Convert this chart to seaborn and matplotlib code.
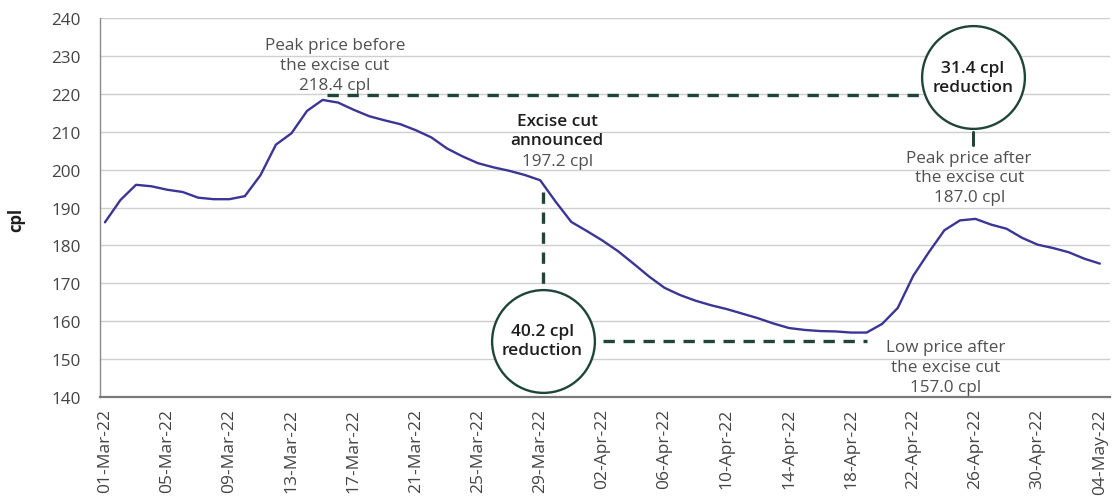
import matplotlib
matplotlib.use("Agg")
import matplotlib.pyplot as plt
import matplotlib.dates as mdates
import numpy as np
import pandas as pd
import seaborn as sns

# Daily retail petrol price, 1 March - 4 May 2022 (cents per litre)
dates = pd.date_range("2022-03-01", "2022-05-04", freq="D")
prices = [
    186.1, 192.0, 196.0, 195.6, 194.7, 194.1, 192.6, 192.2, 192.2, 193.0,
    198.5, 206.6, 209.6, 215.5, 218.4, 217.7, 215.8, 214.1, 213.0, 212.0,
    210.4, 208.5, 205.6, 203.5, 201.7, 200.6, 199.7, 198.6, 197.2, 191.5,
    186.2, 183.8, 181.3, 178.5, 175.2, 171.8, 168.8, 166.9, 165.4, 164.2,
    163.2, 162.0, 160.8, 159.4, 158.2, 157.7, 157.4, 157.3, 157.0, 157.0,
    159.3, 163.5, 172.0, 178.2, 184.0, 186.6, 187.0, 185.5, 184.4, 182.0,
    180.2, 179.3, 178.2, 176.5, 175.2,
]

peak_before = 218.4
announced = 197.2
low_after = 157.0
peak_after = 187.0
announce_date = pd.Timestamp("2022-03-29")

df = pd.DataFrame({"date": dates, "price": prices})

sns.set_theme(style="white")
plt.rcParams["font.family"] = ["Open Sans", "DejaVu Sans"]

LINE = "#3b3596"
DASH = "#1f4536"
GREY_TXT = "#505050"
DARK_TXT = "#1e1e1e"

fig = plt.figure(figsize=(11.12, 5.02), dpi=100)
ax = fig.add_axes([0.0899, 0.2072, 0.9081, 0.7548])

sns.lineplot(data=df, x="date", y="price", ax=ax, color=LINE, lw=1.7, zorder=3)

day = pd.Timedelta(days=1)
x0 = dates[0]
ax.set_xlim(x0 - 0.32 * day, dates[-1] + 0.64 * day)
ax.set_ylim(140, 240)
ax.set_yticks(np.arange(140, 241, 10))
ax.set_xticks(dates[::4])
ax.xaxis.set_major_formatter(mdates.DateFormatter("%d-%b-%y"))

ax.grid(axis="y", color="#cfcfcf", lw=1.0)
ax.grid(axis="x", visible=False)
for s in ("top", "right"):
    ax.spines[s].set_visible(False)
ax.spines["left"].set_color("#8a8a8a")
ax.spines["left"].set_linewidth(1.0)
ax.spines["bottom"].set_color("#7a7a7a")
ax.spines["bottom"].set_linewidth(1.6)

ax.tick_params(axis="y", length=0, pad=14, labelsize=12.3, labelcolor="#444444")
ax.tick_params(axis="x", length=0, pad=8, labelsize=12.5, labelcolor="#444444",
               labelrotation=90)

ax.set_xlabel("")
ax.set_ylabel("cpl", fontsize=12, fontweight="bold", color=DARK_TXT)
ax.yaxis.set_label_coords(-0.074, 0.47)

dash_kw = dict(color=DASH, lw=2.4, linestyle=(0, (3.4, 2.6)), zorder=4)

# Peak-to-peak comparison
top_y = 219.6
circ1_x = x0 + 55.83 * day
circ1_y = 224.4
ax.plot([x0 + 14.3 * day, circ1_x], [top_y, top_y], **dash_kw)
ax.plot([circ1_x, circ1_x], [209.9, 206.5], color=DASH, lw=2.2, zorder=4)
ax.plot([circ1_x], [circ1_y], marker="o", ms=74, mfc="white", mec=DASH,
        mew=1.7, zorder=5)
ax.text(circ1_x, circ1_y, f"{peak_before - peak_after:.1f} cpl\nreduction",
        ha="center", va="center", fontsize=12.5, fontweight="semibold",
        color=DARK_TXT, linespacing=1.25, zorder=6)

# Announcement-to-low comparison
circ2_x = announce_date + 0.15 * day
circ2_y = 154.8
ax.plot([circ2_x, circ2_x], [194.2, circ2_y], **dash_kw)
ax.plot([circ2_x, x0 + 49.0 * day], [154.7, 154.7], **dash_kw)
ax.plot([circ2_x], [circ2_y], marker="o", ms=74, mfc="white", mec=DASH,
        mew=1.7, zorder=5)
ax.text(circ2_x, circ2_y, f"{announced - low_after:.1f} cpl\nreduction",
        ha="center", va="center", fontsize=12.5, fontweight="semibold",
        color=DARK_TXT, linespacing=1.25, zorder=6)

txt_kw = dict(ha="center", va="center", fontsize=12.3, color=GREY_TXT,
              linespacing=1.3, zorder=6)

ax.text(x0 + 14.79 * day, 227.6,
        f"Peak price before\nthe excise cut\n{peak_before:.1f} cpl", **txt_kw)
ax.text(x0 + 29.1 * day, 210.3, "Excise cut\nannounced",
        ha="center", va="center", fontsize=12.3, fontweight="semibold",
        color=DARK_TXT, linespacing=1.3, zorder=6)
ax.text(x0 + 29.1 * day, 202.3, f"{announced:.1f} cpl", **txt_kw)
ax.text(x0 + 55.6 * day, 198.0,
        f"Peak price after\nthe excise cut\n{peak_after:.1f} cpl", **txt_kw)
ax.text(x0 + 54.1 * day, 147.9,
        f"Low price after\nthe excise cut\n{low_after:.1f} cpl", **txt_kw)

fig.savefig("out.png", dpi=100)
